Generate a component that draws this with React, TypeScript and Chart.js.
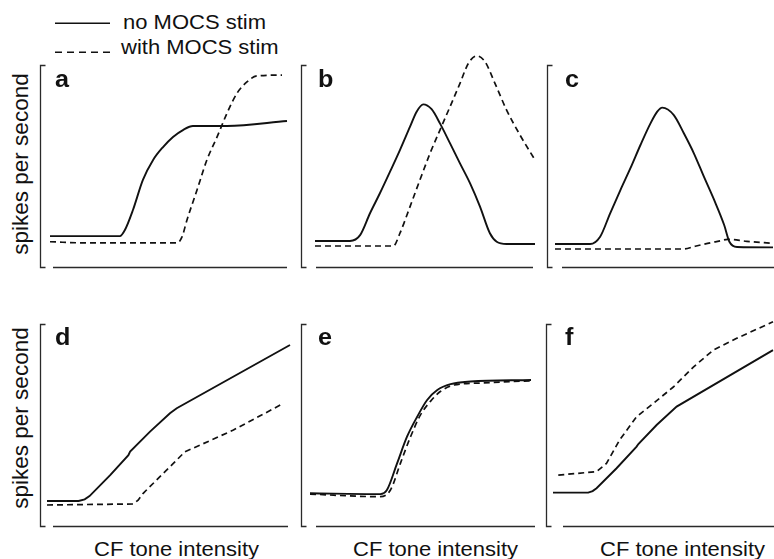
import React, { useEffect, useRef } from "react";
import { Chart, registerables } from "chart.js";

Chart.register(...registerables);

// ---- Data (x: relative CF tone intensity 0-100, y: relative spikes/s 0-100) ----
const aSolidX = [0, 29.5, 31.6, 35.0, 39.2, 43.5, 47.7, 51.9, 56.1, 60.3, 74.7, 100];
const aSolidY = [15.3, 15.3, 18.3, 28.2, 43.1, 53.0, 59.4, 64.4, 67.8, 69.8, 69.8, 72.3];
const aDashX = [0, 16, 53.6, 55.7, 57.8, 62, 66.2, 70.5, 74.7, 78.9, 83.1, 87.3, 97.9];
const aDashY = [12.5, 11.9, 11.9, 14.9, 23.3, 38, 53, 64.4, 76.2, 86, 91.6, 94.6, 95];

const bSolidX = [0, 15.9, 20.5, 25, 29.5, 34.1, 38.6, 43.2, 46.2, 49.2, 53, 56.8, 61.4, 65.9, 70.5, 75, 79.5, 82.6, 87.1, 100];
const bSolidY = [12.9, 12.9, 15.8, 26.6, 36.5, 47.2, 57.9, 69.5, 76.9, 80.5, 78.1, 71.1, 61.2, 51.3, 41.4, 29.9, 16.7, 12.5, 11.4, 11.4];
const bDashX = [0, 35.6, 38.6, 43.2, 47.7, 52.3, 56.8, 61.4, 65.9, 69.7, 73.5, 77.3, 81.8, 87.1, 93.2, 100];
const bDashY = [10.4, 10.4, 16.7, 29.9, 43.1, 56.3, 67.8, 79.4, 90.9, 100.8, 104.5, 101.6, 90.9, 77.7, 65.3, 53];

const cSolidX = [0, 16.1, 20.7, 25.3, 30, 34.6, 39.2, 43.8, 46.9, 49.2, 54.5, 59.1, 63.7, 68.3, 73, 77.6, 80, 83.5, 100];
const cSolidY = [11.4, 11.4, 15, 26.6, 38.1, 48.9, 60.4, 71.1, 76.9, 78.9, 75.2, 66.2, 56.3, 44.7, 33.2, 20.8, 12.5, 9.9, 9.7];
const cDashX = [0, 59.1, 64, 70, 76, 79.1, 88, 100];
const cDashY = [8.9, 8.9, 10.2, 11.7, 13.0, 13.7, 12.7, 11.7];

const dSolidX = [0, 13, 15.5, 17.5, 26, 33.5, 34.2, 42.4, 50.6, 53.4, 100];
const dSolidY = [12.4, 12.4, 13.2, 14.8, 25.2, 35.1, 36.8, 46.7, 55.8, 58.3, 89.6];
const dDashX = [0, 35.5, 37.5, 39.6, 47.9, 52, 56.8, 62.9, 76.7, 97.3];
const dDashY = [10.4, 10.9, 12.8, 16.2, 26.1, 31, 36.8, 40, 47.5, 60.7];

const eSolidX = [0, 31.8, 34.8, 39.4, 43.9, 48.5, 53, 57.6, 63.6, 72.7, 100];
const eSolidY = [16.2, 15.8, 17.8, 31, 44.2, 54.1, 62.4, 67.3, 70.2, 71.5, 72.3];
const eDashX = [0, 31.8, 36.4, 40.9, 45.5, 50, 54.5, 59.1, 65.2, 77.3, 100];
const eDashY = [15.8, 14.5, 17.8, 31, 44.2, 55, 61.7, 66.7, 69.8, 70.8, 71.9];

const fSolidX = [0, 16, 18, 19.8, 28.9, 38, 38.8, 47.1, 56.2, 100];
const fSolidY = [16.5, 16.5, 17.3, 18.7, 28.6, 39.3, 40.6, 50, 59.1, 87.1];
const fDashX = [2.4, 19.8, 24.3, 30.3, 38, 45.6, 54.7, 63.8, 72.9, 83.5, 100];
const fDashY = [25.2, 26.9, 31, 42.6, 54.1, 60.7, 68.8, 78.7, 87.1, 92.9, 101.1];

const panelLetters = ["a", "b", "c", "d", "e", "f"];
const legendLabels = ["no MOCS stim", "with MOCS stim"];
const yTitle = "spikes per second";
const xTitle = "CF tone intensity";

const FONT = '"Liberation Sans", Arial, Helvetica, sans-serif';

type Spec = {
  sx: number[]; sy: number[]; dx: number[]; dy: number[]; smooth: boolean;
  bx: number; dl: number; dr: number; top: number; bottom: number; ax0: number; ax1: number;
};

const specs: Spec[] = [
  { sx: aSolidX, sy: aSolidY, dx: aDashX, dy: aDashY, smooth: true, bx: 40, dl: 50, dr: 287, top: 65, bottom: 267, ax0: 53, ax1: 287 },
  { sx: bSolidX, sy: bSolidY, dx: bDashX, dy: bDashY, smooth: true, bx: 301, dl: 315, dr: 535, top: 65, bottom: 267, ax0: 316, ax1: 533 },
  { sx: cSolidX, sy: cSolidY, dx: cDashX, dy: cDashY, smooth: true, bx: 547, dl: 555, dr: 773, top: 65, bottom: 267, ax0: 562, ax1: 774 },
  { sx: dSolidX, sy: dSolidY, dx: dDashX, dy: dDashY, smooth: false, bx: 40, dl: 47, dr: 290, top: 324, bottom: 526, ax0: 53, ax1: 288 },
  { sx: eSolidX, sy: eSolidY, dx: eDashX, dy: eDashY, smooth: true, bx: 301, dl: 310, dr: 531, top: 324, bottom: 526, ax0: 316, ax1: 535 },
  { sx: fSolidX, sy: fSolidY, dx: fDashX, dy: fDashY, smooth: false, bx: 546, dl: 553, dr: 773, top: 324, bottom: 526, ax0: 563, ax1: 774 },
];

const zip = (xs: number[], ys: number[]) => xs.map((x, i) => ({ x, y: ys[i] }));

function Panel({ spec }: { spec: Spec }) {
  const ref = useRef<HTMLCanvasElement>(null);
  const cl = spec.bx - 3;
  const ct = spec.top - 24;
  const w = Math.min(774, Math.max(spec.dr, spec.ax1) + 2) - cl;
  const h = spec.bottom - ct + 4;

  useEffect(() => {
    if (!ref.current) return;
    const frame = {
      id: "frame",
      afterDraw(chart: any) {
        const ctx = chart.ctx;
        const y = chart.scales.y;
        const yTop = Math.round(y.getPixelForValue(100)) + 0.5;
        const yBot = Math.round(y.getPixelForValue(0)) + 0.5;
        const bxc = spec.bx - cl + 0.5;
        ctx.save();
        ctx.strokeStyle = "#2a2a2a";
        ctx.lineWidth = 1.3;
        ctx.beginPath();
        ctx.moveTo(bxc + 5, yTop);
        ctx.lineTo(bxc, yTop);
        ctx.lineTo(bxc, yBot);
        ctx.lineTo(bxc + 5, yBot);
        ctx.stroke();
        ctx.lineWidth = 1.5;
        ctx.beginPath();
        ctx.moveTo(spec.ax0 - cl, yBot);
        ctx.lineTo(spec.ax1 - cl, yBot);
        ctx.stroke();
        ctx.restore();
      },
    };
    const lineMode = spec.smooth
      ? { cubicInterpolationMode: "monotone" }
      : { tension: 0 };
    const chart = new Chart(ref.current, {
      type: "line",
      data: {
        datasets: [
          {
            data: zip(spec.sx, spec.sy),
            borderColor: "#111",
            borderWidth: 1.9,
            pointRadius: 0,
            fill: false,
            clip: false,
            ...lineMode,
          },
          {
            data: zip(spec.dx, spec.dy),
            borderColor: "#111",
            borderWidth: 1.7,
            borderDash: [6, 4],
            pointRadius: 0,
            fill: false,
            clip: false,
            ...lineMode,
          },
        ],
      } as any,
      options: {
        responsive: false,
        animation: false,
        devicePixelRatio: 1,
        events: [],
        layout: {
          padding: { left: spec.dl - cl, right: w - (spec.dr - cl), top: spec.top - ct, bottom: 4 },
        },
        scales: {
          x: { type: "linear", min: 0, max: 100, display: false },
          y: { type: "linear", min: 0, max: 100, display: false },
        },
        plugins: { legend: { display: false }, tooltip: { enabled: false } },
      } as any,
      plugins: [frame],
    });
    return () => chart.destroy();
  }, []);

  return (
    <canvas
      ref={ref}
      width={w}
      height={h}
      style={{ position: "absolute", left: cl, top: ct, width: w, height: h }}
    />
  );
}

const hText = (text: string, left: number, baseline: number, size = 20, bold = false, sx = 1.1) => (
  <div
    key={text + left + baseline}
    style={{
      position: "absolute",
      left,
      top: baseline - 0.8465 * size,
      fontFamily: FONT,
      fontSize: size,
      fontWeight: bold ? "bold" : "normal",
      lineHeight: 1,
      whiteSpace: "nowrap",
      color: "#111",
      transform: `scaleX(${sx})`,
      transformOrigin: "left center",
    }}
  >
    {text}
  </div>
);

const vText = (text: string, cx: number, cy: number) => (
  <div
    key={text + cy}
    style={{
      position: "absolute",
      left: cx,
      top: cy,
      fontFamily: FONT,
      fontSize: 22.5,
      lineHeight: 1,
      whiteSpace: "nowrap",
      color: "#111",
      transform: "translate(-50%, -50%) rotate(-90deg)",
    }}
  >
    {text}
  </div>
);

const labelPos = [
  [55, 87], [318, 87], [565, 87],
  [55, 345], [318, 345], [565, 345],
];

export default function App() {
  return (
    <div style={{ position: "fixed", left: 0, top: 0, width: 774, height: 559, background: "#fff", overflow: "hidden" }}>
      <svg width={130} height={60} style={{ position: "absolute", left: 0, top: 0 }}>
        <line x1={55} y1={23.3} x2={110} y2={23.3} stroke="#111" strokeWidth={1.5} />
        <line x1={55} y1={52.3} x2={114} y2={52.3} stroke="#111" strokeWidth={1.5} strokeDasharray="7 5" />
      </svg>
      {hText(legendLabels[0], 123, 29.3)}
      {hText(legendLabels[1], 121, 54.3)}
      {specs.map((s, i) => (
        <Panel key={i} spec={s} />
      ))}
      {panelLetters.map((l, i) => hText(l, labelPos[i][0], labelPos[i][1], 24, true, 1.05))}
      {vText(yTitle, 21, 164)}
      {vText(yTitle, 21, 418)}
      {hText(xTitle, 94, 556)}
      {hText(xTitle, 353, 556)}
      {hText(xTitle, 600, 556)}
    </div>
  );
}
